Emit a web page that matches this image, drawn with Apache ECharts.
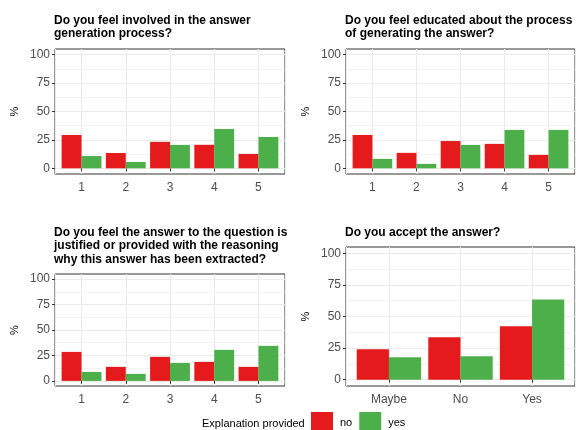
<!DOCTYPE html>
<html><head><meta charset="utf-8">
<script src="https://cdn.jsdelivr.net/npm/echarts@6/dist/echarts.min.js"></script>
<style>html,body{margin:0;padding:0;background:#fff}#c{width:577px;height:430px}</style>
</head><body><div id="c"></div>
<script>
// ---- data ----
const panelTitles = [
  'Do you feel involved in the answer\ngeneration process?',
  'Do you feel educated about the process\nof generating the answer?',
  'Do you feel the answer to the question is\njustified or provided with the reasoning\nwhy this answer has been extracted?',
  'Do you accept the answer?'
];
const numCats = ['1', '2', '3', '4', '5'];
const acceptCats = ['Maybe', 'No', 'Yes'];
const involvedNo  = [29.3, 13.5, 23.3, 20.7, 12.7];
const involvedYes = [10.8, 5.6, 20.6, 34.6, 27.6];
const educatedNo  = [29.3, 13.6, 24.0, 21.5, 11.8];
const educatedYes = [8.3, 3.9, 20.6, 33.8, 33.8];
const justifiedNo  = [28.5, 13.8, 23.6, 18.7, 13.8];
const justifiedYes = [8.8, 6.9, 17.7, 30.5, 34.4];
const acceptNo  = [24.0, 33.5, 42.2];
const acceptYes = [17.7, 18.5, 63.5];
const yTickStep = 25;
const yMax = 100;
const yAxisTitle = '%';
const legendTitle = 'Explanation provided';
const groupNames = ['no', 'yes'];

// ---- layout (styles/positions) ----
const panels = [
  { box: [55, 285, 49, 174], cats: numCats, no: involvedNo, yes: involvedYes, titleTop: 13.5 },
  { box: [346, 575, 49, 174], cats: numCats, no: educatedNo, yes: educatedYes, titleTop: 13.5 },
  { box: [55, 285, 274, 386], cats: numCats, no: justifiedNo, yes: justifiedYes, titleTop: 225.5 },
  { box: [346, 575, 247, 386], cats: acceptCats, no: acceptNo, yes: acceptYes, titleTop: 225.5 }
];
const RED = '#E41A1C', GREEN = '#4DAF4A', GRID = '#EBEBEB', FONT = 'Liberation Sans, Arial, Helvetica, sans-serif';

const grid = [], xAxis = [], yAxis = [], series = [], title = [];
panels.forEach((p, i) => {
  const [l, r, t, b] = p.box;
  const n = p.cats.length;
  const ux = (r - l) / (n + 0.2);
  const uy = (b - t) / 110;
  const innerTop = t + 5 * uy, innerH = 100 * uy;
  const innerL = l + 0.1 * ux, innerW = (r - l) - 0.2 * ux;
  const base = grid.length;
  // A: frame + vertical grid lines
  grid.push({ left: l, top: t, width: r - l, height: b - t, show: true, borderColor: '#333333', borderWidth: 1, backgroundColor: 'transparent', containLabel: false });
  xAxis.push({ gridIndex: base, type: 'value', min: 0.4, max: n + 0.6, splitNumber: n,
    axisLine: { show: false }, axisTick: { show: false }, axisLabel: { show: false },
    splitLine: { show: true, lineStyle: { color: GRID, width: 1 } } });
  yAxis.push({ gridIndex: base, type: 'value', min: -5, max: 105, show: false });
  // C: y axis + horizontal grid lines (full width)
  grid.push({ left: l, top: innerTop, width: r - l, height: innerH, containLabel: false });
  xAxis.push({ gridIndex: base + 1, type: 'value', show: false, min: 0, max: 1 });
  yAxis.push({ gridIndex: base + 1, type: 'value', min: 0, max: yMax, interval: yTickStep,
    name: yAxisTitle, nameLocation: 'middle', nameRotate: 90, nameGap: 35,
    nameTextStyle: { color: '#000', fontSize: 11, fontFamily: FONT },
    axisLine: { show: false },
    axisTick: { show: true, length: 3, lineStyle: { color: '#333333', width: 1 } },
    axisLabel: { color: '#4D4D4D', fontSize: 12, margin: 5, fontFamily: FONT },
    splitLine: { show: true, lineStyle: { color: GRID, width: 1 } },
    minorTick: { show: false, splitNumber: 2 },
    minorSplitLine: { show: true, lineStyle: { color: GRID, width: 0.6 } } });
  // B: bars with category axis
  grid.push({ left: innerL, top: innerTop, width: innerW, height: innerH, containLabel: false });
  xAxis.push({ gridIndex: base + 2, type: 'category', data: p.cats, offset: 5 * uy,
    axisLine: { show: false },
    axisTick: { show: true, alignWithLabel: true, length: 3, lineStyle: { color: '#333333', width: 1 } },
    axisLabel: { color: '#4D4D4D', fontSize: 12, margin: 8, fontFamily: FONT },
    splitLine: { show: false } });
  yAxis.push({ gridIndex: base + 2, type: 'value', min: 0, max: yMax, show: false });
  series.push({ name: groupNames[0], type: 'bar', xAxisIndex: base + 2, yAxisIndex: base + 2,
    data: p.no, itemStyle: { color: RED }, barGap: '0%', barCategoryGap: '10%', z: 3 });
  series.push({ name: groupNames[1], type: 'bar', xAxisIndex: base + 2, yAxisIndex: base + 2,
    data: p.yes, itemStyle: { color: GREEN }, barGap: '0%', barCategoryGap: '10%', z: 3 });
  title.push({ text: panelTitles[i], left: l - 1, top: p.titleTop, padding: 0,
    textStyle: { fontSize: 12, fontWeight: 'bold', color: '#000', lineHeight: 13.5, fontFamily: FONT } });
});
title.push({ text: legendTitle, left: 202, top: 418, padding: 0,
  textStyle: { fontSize: 11, fontWeight: 'normal', color: '#000', fontFamily: FONT } });

const chart = echarts.init(document.getElementById('c'), null, { renderer: 'canvas' });
chart.setOption({
  animation: false,
  backgroundColor: '#fff',
  textStyle: { fontFamily: FONT },
  title,
  legend: { data: groupNames, left: 311, top: 412, padding: 0, icon: 'rect', itemWidth: 22, itemHeight: 22,
    itemGap: 7, textStyle: { color: '#000', fontSize: 11, fontFamily: FONT, padding: [2, 0, 0, 2] } },
  grid, xAxis, yAxis, series
});
</script></body></html>
